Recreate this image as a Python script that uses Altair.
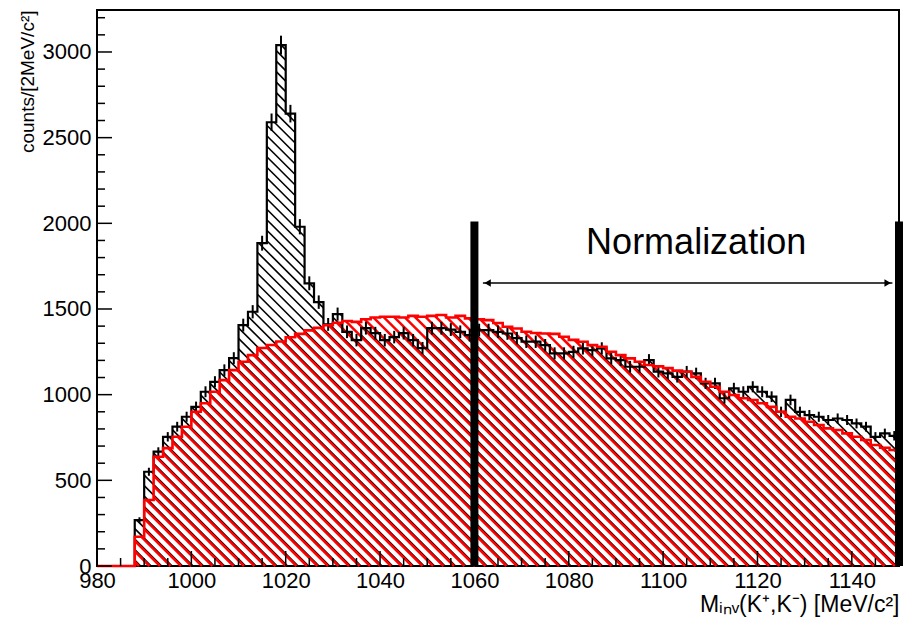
import altair as alt
import numpy as np
import pandas as pd

# ---------------- data ----------------
bin_lo = list(range(980, 1150, 2))  # 2 MeV/c^2 bins, lower edges

data_counts = [0, 0, 0, 0,
               268, 550, 667, 754, 813, 871, 929, 1017, 1075, 1143,
               1213, 1406, 1484, 1884, 2590, 3040, 2640, 1980, 1650, 1540,
               1410, 1470, 1367, 1318, 1388, 1359, 1318, 1336, 1359, 1318,
               1272, 1388, 1388, 1380, 1367, 1347, 1377, 1377, 1367, 1357,
               1330, 1309, 1309, 1289, 1241, 1241, 1250, 1270, 1260, 1270,
               1212, 1202, 1163, 1163, 1202, 1134, 1124, 1104, 1134, 1124,
               1066, 1066, 979, 1037, 1017, 1046, 1017, 988, 900, 969,
               900, 881, 871, 852, 861, 852, 832, 813, 754, 774,
               760]

mc_counts = [0, 0, 0, 0,
             171, 385, 638, 688, 754, 813, 900, 950, 1017, 1085,
             1143, 1192, 1231, 1272, 1290, 1310, 1335, 1355, 1375, 1390,
             1405, 1420, 1430, 1425, 1440, 1450, 1455, 1455, 1450, 1460,
             1455, 1460, 1465, 1450, 1460, 1445, 1440, 1435, 1418, 1396,
             1386, 1367, 1360, 1357, 1355, 1338, 1320, 1309, 1289, 1280,
             1250, 1231, 1212, 1192, 1173, 1165, 1155, 1140, 1134, 1104,
             1075, 1046, 1017, 998, 979, 969, 950, 929, 900, 871,
             861, 842, 823, 803, 794, 774, 754, 735, 706, 690,
             677]

x_major = list(range(980, 1141, 20))
x_minor = [v for v in range(980, 1151, 5) if v % 20 != 0]
y_major = list(range(0, 3001, 500))
y_minor = [v for v in range(0, 3201, 100) if v % 500 != 0]

norm_x = [1060, 1150]
norm_top = 2010
arrow_x = [1061.8, 1148.6]
arrow_y = 1652
label_text = "Normalization"
label_x, label_y = 1107, 1821

x_title = "M\u1d62\u2099\u1d65(K\u207a,K\u207b) [MeV/c\u00b2]"
y_title = "counts/[2MeV/c\u00b2]"

# ---------------- geometry ----------------
W, H = 802, 556
X0, X1 = 980, 1150
YMAX = 3245
SX = W / (X1 - X0)
SY = H / YMAX
BW = 2
FONT = "Liberation Sans"


def hatch(values, spacing, phase):
    """45-degree hatch lines clipped to the area under a step histogram."""
    h = np.array(values, dtype=float) * SY
    a = (np.array(bin_lo, dtype=float) - X0) * SX
    b = a + BW * SX
    rows = []
    c = phase
    cmax = W + h.max() + spacing
    while c < cmax:
        lo = np.maximum(a, c - h)
        hi = np.minimum(b, c)
        cur = None
        for l, r in zip(lo, hi):
            if r <= l + 1e-9:
                continue
            if cur is not None and l <= cur[1] + 1e-6:
                cur[1] = r
            else:
                if cur is not None:
                    rows.append((c, cur[0], cur[1]))
                cur = [l, r]
        if cur is not None:
            rows.append((c, cur[0], cur[1]))
        c += spacing
    return pd.DataFrame({
        "x": [X0 + l / SX for c, l, r in rows],
        "y": [(c - l) / SY for c, l, r in rows],
        "x2": [X0 + r / SX for c, l, r in rows],
        "y2": [(c - r) / SY for c, l, r in rows],
    })


XS = alt.Scale(domain=[X0, X1], nice=False, zero=False)
YS = alt.Scale(domain=[0, YMAX], nice=False, zero=False)
XAXIS = alt.Axis(values=x_major, format="d", ticks=False, domain=False, grid=False,
                 labelFont=FONT, labelFontSize=22, labelColor="black",
                 labelPadding=4, labelFlush=False, labelOverlap=False,
                 title=x_title, titleFont=FONT, titleFontSize=23,
                 titleFontWeight="normal", titleColor="black",
                 titleAlign="right", titleAnchor="end", titleX=W, titleY=45,
                 titleBaseline="alphabetic")
YAXIS = alt.Axis(values=y_major, format="d", ticks=False, domain=False, grid=False,
                 labelFont=FONT, labelFontSize=22, labelColor="black",
                 labelPadding=6, labelFlush=False, labelOverlap=False,
                 title=y_title, titleFont=FONT, titleFontSize=19,
                 titleFontWeight="normal", titleColor="black",
                 titleAngle=270, titleAlign="right", titleX=-70, titleY=0,
                 titleBaseline="middle")


def X(f):
    return alt.X(f, type="quantitative", scale=XS, axis=XAXIS)


def Y(f):
    return alt.Y(f, type="quantitative", scale=YS, axis=YAXIS)


# hatches
SP = 10.5
df_bh = hatch(data_counts, SP, 1.6)
df_rh = hatch(mc_counts, SP, 0.0)
black_hatch = alt.Chart(df_bh).mark_rule(color="black", strokeWidth=1.6).encode(
    x=X("x"), y=Y("y"), x2="x2", y2="y2")
red_hatch = alt.Chart(df_rh).mark_rule(color="#ff0000", strokeWidth=2.5).encode(
    x=X("x"), y=Y("y"), x2="x2", y2="y2")

# outlines
edges = bin_lo + [X1]
df_dl = pd.DataFrame({"x": edges, "y": data_counts + [data_counts[-1]]})
df_ml = pd.DataFrame({"x": edges, "y": mc_counts + [mc_counts[-1]]})
data_line = alt.Chart(df_dl).mark_line(interpolate="step-after", color="black",
                                       strokeWidth=2.2).encode(x=X("x"), y=Y("y"))
mc_line = alt.Chart(df_ml).mark_line(interpolate="step-after", color="#ff0000",
                                     strokeWidth=2.6).encode(x=X("x"), y=Y("y"))

# error bars of the data histogram
vals = np.array(data_counts, dtype=float)
mask = vals > 0
df_err = pd.DataFrame({
    "x": (np.array(bin_lo) + BW / 2)[mask],
    "y": (vals - np.sqrt(vals))[mask],
    "y2": (vals + np.sqrt(vals))[mask],
})
err = alt.Chart(df_err).mark_rule(color="black", strokeWidth=2).encode(
    x=X("x"), y=Y("y"), y2="y2")

# normalization window
df_norm = pd.DataFrame({"x": norm_x, "y": [0, 0], "y2": [norm_top, norm_top]})
norm_lines = alt.Chart(df_norm).mark_rule(color="black", strokeWidth=8).encode(
    x=X("x"), y=Y("y"), y2="y2")

df_arrow = pd.DataFrame({"x": [arrow_x[0]], "x2": [arrow_x[1]], "y": [arrow_y]})
arrow = alt.Chart(df_arrow).mark_rule(color="black", strokeWidth=1.5).encode(
    x=X("x"), x2="x2", y=Y("y"))
df_heads = pd.DataFrame({"x": [arrow_x[0] + 1.0, arrow_x[1] - 1.0],
                         "y": [arrow_y, arrow_y], "s": ["l", "r"]})
heads = alt.Chart(df_heads).mark_point(filled=True, color="black", opacity=1,
                                       size=55).encode(
    x=X("x"), y=Y("y"),
    shape=alt.Shape("s:N", scale=alt.Scale(domain=["l", "r"],
                                           range=["triangle-left", "triangle-right"]),
                    legend=None))

df_label = pd.DataFrame({"x": [label_x], "y": [label_y], "t": [label_text]})
label = alt.Chart(df_label).mark_text(font=FONT, fontSize=36, color="black",
                                      align="center", baseline="alphabetic").encode(
    x=X("x"), y=Y("y"), text="t:N")

# inward ticks (ROOT style)
ytm = alt.Chart(pd.DataFrame({"y": y_major})).mark_rule(color="black", strokeWidth=1.5).encode(
    y=Y("y"), x=alt.value(0), x2=alt.value(15))
ytn = alt.Chart(pd.DataFrame({"y": y_minor})).mark_rule(color="black", strokeWidth=1.5).encode(
    y=Y("y"), x=alt.value(0), x2=alt.value(8))
xtm = alt.Chart(pd.DataFrame({"x": x_major})).mark_rule(color="black", strokeWidth=1.5).encode(
    x=X("x"), y=alt.value(H), y2=alt.value(H - 15))
xtn = alt.Chart(pd.DataFrame({"x": x_minor})).mark_rule(color="black", strokeWidth=1.5).encode(
    x=X("x"), y=alt.value(H), y2=alt.value(H - 8))

chart = alt.layer(
    black_hatch, red_hatch, data_line, err, mc_line,
    norm_lines, arrow, heads, label, ytm, ytn, xtm, xtn
).properties(
    width=W, height=H,
    padding={"left": 97, "top": 10, "right": 4, "bottom": 53},
    autosize=alt.AutoSizeParams(type="none"),
    background="white",
).configure(font=FONT).configure_view(stroke="black", strokeWidth=2)

chart.save("out.html", embed_options={"renderer": "svg", "actions": False})
